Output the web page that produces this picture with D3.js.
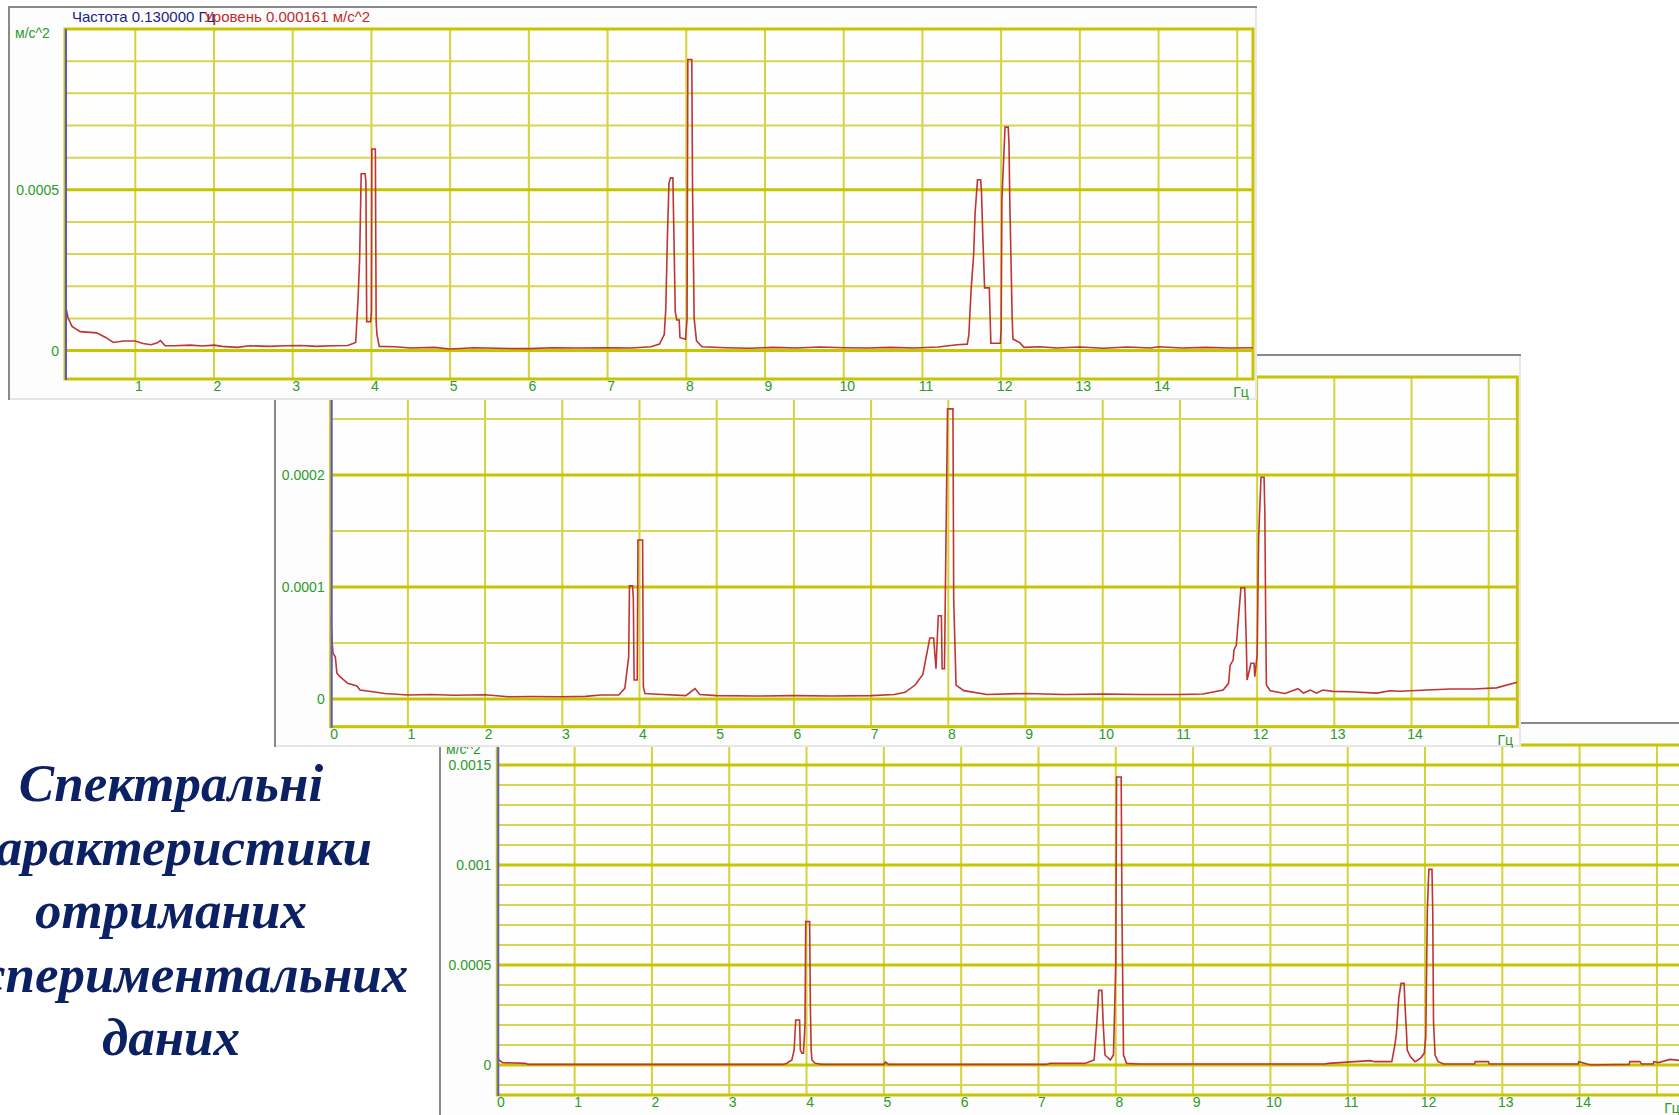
<!DOCTYPE html>
<html><head><meta charset="utf-8">
<script src="https://cdn.jsdelivr.net/npm/d3@7"></script>
<style>
body{margin:0;background:#fff;overflow:hidden}
svg{display:block}
</style></head><body>
<svg id="c" width="1679" height="1115"></svg>
<script>
// ---------- text ----------
const titleLines = ["Спектральні","характеристики","отриманих","експериментальних","даних"];
const headerFreq = "Частота 0.130000 Гц";
const headerLevel = "Уровень 0.000161 м/с^2";
const unitY = "м/с^2";
const unitX = "Гц";

// ---------- ticks ----------
const xGrid = [1,2,3,4,5,6,7,8,9,10,11,12,13,14,15];
const p1XLabels = [1,2,3,4,5,6,7,8,9,10,11,12,13,14];
const p2XLabels = [0,1,2,3,4,5,6,7,8,9,10,11,12,13,14];
const p3XLabels = [0,1,2,3,4,5,6,7,8,9,10,11,12,13,14];

const p1YMajor = [0, 0.0005];
const p1YMajorLabels = ["0", "0.0005"];
const p1YMinor = [0.0001,0.0002,0.0003,0.0004,0.0006,0.0007,0.0008,0.0009];

const p2YMajor = [0, 0.0001, 0.0002];
const p2YMajorLabels = ["0", "0.0001", "0.0002"];
const p2YMinor = [0.00005, 0.00015, 0.00025];

const p3YMajor = [0, 0.0005, 0.001, 0.0015];
const p3YMajorLabels = ["0", "0.0005", "0.001", "0.0015"];
const p3YMinor = [-0.0001,0.0001,0.0002,0.0003,0.0004,0.0006,0.0007,0.0008,0.0009,0.0011,0.0012,0.0013,0.0014];

// ---------- spectrum 1 (Hz, m/s^2) ----------
const p1Freq = [0.107,0.145,0.196,0.30,0.51,0.63,0.72,0.85,1.0,1.1,1.2,1.28,1.32,1.38,1.5,1.7,1.85,2.0,2.1,2.3,2.45,2.7,2.9,3.1,3.3,3.5,3.7,3.8,3.83,3.85,3.87,3.92,3.93,3.94,3.99,4.0,4.005,4.05,4.06,4.07,4.1,4.3,4.5,4.8,5.0,5.3,5.6,6.0,6.3,6.6,7.0,7.3,7.55,7.66,7.72,7.74,7.76,7.78,7.80,7.83,7.84,7.86,7.88,7.91,7.92,7.99,8.01,8.02,8.07,8.08,8.10,8.13,8.2,8.5,8.8,9.1,9.4,9.7,10.0,10.3,10.6,10.9,11.2,11.44,11.57,11.59,11.62,11.65,11.67,11.70,11.74,11.75,11.77,11.79,11.85,11.86,11.87,11.99,12.0,12.01,12.05,12.09,12.10,12.11,12.14,12.15,12.24,12.29,12.5,12.7,13.0,13.3,13.6,13.9,14.0,14.3,14.6,14.9,15.2];
const p1Val = [148e-6,102e-6,75e-6,59e-6,55e-6,40e-6,25e-6,30e-6,30e-6,22e-6,18e-6,24e-6,31e-6,15e-6,15e-6,17e-6,14e-6,17e-6,13e-6,10e-6,15e-6,13e-6,15e-6,16e-6,13e-6,15e-6,16e-6,25e-6,158e-6,283e-6,550e-6,550e-6,524e-6,90e-6,90e-6,120e-6,627e-6,627e-6,90e-6,50e-6,13e-6,12e-6,8e-6,10e-6,5e-6,9e-6,7e-6,6e-6,9e-6,8e-6,9e-6,8e-6,12e-6,20e-6,50e-6,130e-6,350e-6,520e-6,537e-6,537e-6,400e-6,120e-6,95e-6,95e-6,40e-6,35e-6,100e-6,905e-6,905e-6,500e-6,100e-6,30e-6,12e-6,9e-6,7e-6,10e-6,8e-6,11e-6,9e-6,8e-6,10e-6,8e-6,11e-6,18e-6,20e-6,49e-6,195e-6,294e-6,430e-6,531e-6,531e-6,497e-6,336e-6,195e-6,195e-6,106e-6,23e-6,23e-6,65e-6,470e-6,695e-6,695e-6,643e-6,470e-6,106e-6,36e-6,24e-6,10e-6,12e-6,8e-6,11e-6,7e-6,11e-6,8e-6,12e-6,8e-6,10e-6,8e-6,9e-6];

// ---------- spectrum 2 ----------
const p2Freq = [0,0.02,0.03,0.06,0.08,0.12,0.22,0.34,0.38,0.57,0.7,1.0,1.3,1.6,2.0,2.3,2.6,3.0,3.3,3.5,3.73,3.81,3.86,3.87,3.91,3.92,3.93,3.97,3.98,4.04,4.05,4.07,4.3,4.6,4.72,4.78,5.0,5.5,6.0,6.5,7.0,7.3,7.44,7.57,7.67,7.76,7.81,7.84,7.87,7.91,7.92,7.95,7.99,8.06,8.07,8.10,8.2,8.5,9.0,9.5,10.0,10.5,11.0,11.3,11.56,11.63,11.65,11.69,11.70,11.73,11.79,11.84,11.86,11.87,11.92,11.96,11.97,12.0,12.02,12.05,12.09,12.10,12.11,12.12,12.17,12.36,12.53,12.6,12.69,12.77,12.85,12.98,13.2,13.55,13.72,13.85,14.2,14.5,14.8,15.1,15.37];
const p2Val = [73.5e-6,49.7e-6,40.8e-6,37.8e-6,23e-6,20e-6,14e-6,11.6e-6,8e-6,6.3e-6,5e-6,3.6e-6,4e-6,3.4e-6,3.8e-6,2e-6,2.2e-6,2e-6,2.4e-6,3.6e-6,3.6e-6,9.5e-6,37.8e-6,101e-6,101e-6,90e-6,17e-6,17e-6,142e-6,142e-6,11e-6,5e-6,4e-6,3e-6,9.3e-6,4e-6,3e-6,2.7e-6,3e-6,2.7e-6,3e-6,4e-6,6e-6,12.5e-6,22e-6,54.5e-6,54.5e-6,27e-6,74.4e-6,74.4e-6,27e-6,27e-6,259e-6,259e-6,88.5e-6,12.5e-6,7.5e-6,4e-6,5e-6,4e-6,4.5e-6,4e-6,4e-6,4.5e-6,8e-6,14e-6,30e-6,34.8e-6,43.8e-6,48e-6,99.4e-6,99.4e-6,49.7e-6,17e-6,31.9e-6,31.9e-6,20e-6,39.3e-6,145e-6,198e-6,198e-6,166e-6,79.5e-6,12.5e-6,7.4e-6,5e-6,9.2e-6,5.3e-6,8e-6,5.3e-6,8e-6,6.8e-6,6.5e-6,5.3e-6,7.4e-6,7e-6,8e-6,9e-6,9e-6,10e-6,15e-6];

// ---------- spectrum 3 ----------
const p3Freq = [0,0.02,0.07,0.36,0.4,1.0,2.0,3.0,3.7,3.74,3.81,3.84,3.86,3.91,3.92,3.94,3.96,3.98,3.99,4.04,4.05,4.06,4.07,4.11,4.2,5.0,5.02,5.06,6.0,7.1,7.15,7.6,7.72,7.75,7.78,7.82,7.84,7.86,7.93,7.97,8.0,8.01,8.07,8.08,8.10,8.14,8.3,9.0,10.0,10.7,10.75,11.29,11.35,11.57,11.61,11.63,11.66,11.69,11.73,11.74,11.76,11.77,11.81,11.87,11.94,11.99,12.01,12.03,12.05,12.09,12.10,12.11,12.13,12.17,12.24,12.64,12.65,12.82,12.83,13.98,13.99,14.05,14.14,14.64,14.65,14.78,14.8,14.95,14.96,15.02,15.17,15.35];
const p3Val = [58.5e-6,25e-6,11.7e-6,8.3e-6,3e-6,3e-6,3e-6,3e-6,3e-6,8e-6,25e-6,75e-6,225e-6,225e-6,75e-6,58.5e-6,58.5e-6,200e-6,717e-6,717e-6,283e-6,75e-6,25e-6,8.3e-6,3e-6,3e-6,15e-6,3e-6,3e-6,3e-6,8e-6,8e-6,25e-6,185e-6,373e-6,373e-6,185e-6,50e-6,25e-6,50e-6,500e-6,1440e-6,1440e-6,775e-6,50e-6,8e-6,5e-6,5e-6,5e-6,5e-6,8e-6,21.7e-6,16.7e-6,16.7e-6,100e-6,158e-6,333e-6,408e-6,408e-6,308e-6,167e-6,75e-6,41.7e-6,16.7e-6,33.3e-6,58.3e-6,142e-6,775e-6,978e-6,978e-6,767e-6,217e-6,50e-6,16.7e-6,5e-6,5e-6,16.7e-6,16.7e-6,5e-6,5e-6,16.7e-6,10e-6,0,3e-6,16.7e-6,16.7e-6,5e-6,5e-6,16.7e-6,12e-6,28e-6,20e-6];

// ---------- drawing ----------
const svg = d3.select("#c");
const FONT = "'Liberation Sans', Arial, sans-serif";
const GREEN = "#2b9a2b";

// title (underneath the windows)
const title = svg.append("text")
  .attr("x", 171).attr("text-anchor", "middle")
  .attr("font-family", "'Liberation Serif','Times New Roman',serif")
  .attr("font-weight", "bold").attr("font-style", "italic")
  .attr("font-size", 53).attr("fill", "#0b2163");
const titleBase = [801, 865, 928, 992, 1055];
titleLines.forEach((t, i) => {
  title.append("tspan").attr("x", 171).attr("y", titleBase[i]).text(t);
});

let clipId = 0;
function drawPanel(cfg) {
  const g = svg.append("g");
  const W = cfg.win;
  // window
  g.append("rect").attr("x", W.x).attr("y", W.y).attr("width", W.w).attr("height", W.h)
    .attr("fill", "#fdfdfd");
  g.append("line").attr("x1", W.x).attr("x2", W.x + W.w).attr("y1", W.y + W.h - 1).attr("y2", W.y + W.h - 1)
    .attr("stroke", "#e6e6e6").attr("stroke-width", 2);
  g.append("line").attr("x1", W.x + W.w - 1).attr("x2", W.x + W.w - 1).attr("y1", W.y).attr("y2", W.y + W.h)
    .attr("stroke", "#e6e6e6").attr("stroke-width", 2);
  g.append("line").attr("x1", W.x).attr("x2", W.x + W.w).attr("y1", W.y + 1).attr("y2", W.y + 1)
    .attr("stroke", "#8a8a8a").attr("stroke-width", 2);
  g.append("line").attr("x1", W.x + 1).attr("x2", W.x + 1).attr("y1", W.y).attr("y2", W.y + W.h)
    .attr("stroke", "#8a8a8a").attr("stroke-width", 2);

  const P = cfg.plot;
  const x = d3.scaleLinear().domain(cfg.xDomain).range([P.l, P.r]);
  const y = d3.scaleLinear().domain(cfg.yDomain).range([P.b, P.t]);

  g.append("rect").attr("x", P.l).attr("y", P.t).attr("width", P.r - P.l).attr("height", P.b - P.t)
    .attr("fill", "#fefefe");

  // vertical grid
  g.append("g").selectAll("line").data(cfg.xGrid.filter(v => x(v) > P.l + 2 && x(v) < P.r - 2)).join("line")
    .attr("x1", d => x(d)).attr("x2", d => x(d)).attr("y1", P.t).attr("y2", P.b)
    .attr("stroke", "#d3d33a").attr("stroke-width", 2);
  // minor horizontal
  g.append("g").selectAll("line").data(cfg.yMinor).join("line")
    .attr("x1", P.l).attr("x2", P.r).attr("y1", d => y(d)).attr("y2", d => y(d))
    .attr("stroke", "#d6d650").attr("stroke-width", 2);
  // major horizontal
  g.append("g").selectAll("line").data(cfg.yMajor).join("line")
    .attr("x1", P.l).attr("x2", P.r).attr("y1", d => y(d)).attr("y2", d => y(d))
    .attr("stroke", "#c6c600").attr("stroke-width", 3);
  // border
  g.append("rect").attr("x", P.l).attr("y", P.t).attr("width", P.r - P.l).attr("height", P.b - P.t)
    .attr("fill", "none").attr("stroke", "#c8c400").attr("stroke-width", 3);

  // spectrum
  const cid = "clip" + (clipId++);
  g.append("clipPath").attr("id", cid).append("rect")
    .attr("x", P.l).attr("y", P.t).attr("width", P.r - P.l).attr("height", P.b - P.t);
  const pts = cfg.freq.map((f, i) => [f, cfg.val[i]]);
  g.append("path").datum(pts).attr("clip-path", `url(#${cid})`)
    .attr("d", d3.line().x(d => x(d[0])).y(d => y(d[1])))
    .attr("fill", "none").attr("stroke", "#bf3434").attr("stroke-width", 1.6)
    .attr("stroke-linejoin", "miter");

  // left blue axis
  g.append("line").attr("x1", P.l + 1).attr("x2", P.l + 1).attr("y1", P.t).attr("y2", P.b + 1)
    .attr("stroke", "#5a5ad0").attr("stroke-width", 2);

  // x labels
  const xa = g.append("g").attr("transform", `translate(3,${P.b + 1})`)
    .call(d3.axisBottom(x).tickValues(cfg.xLabels).tickSize(0).tickPadding(1).tickFormat(d3.format("d")));
  xa.select(".domain").remove();
  xa.selectAll("text").attr("font-family", FONT).attr("font-size", 14).attr("fill", GREEN);
  g.append("text").attr("x", P.r - 12).attr("y", P.b + 18).attr("text-anchor", "middle")
    .attr("font-family", FONT).attr("font-size", 14).attr("fill", GREEN).text(unitX);

  // y labels
  const ya = g.append("g").attr("transform", `translate(${P.l - 5},0)`)
    .call(d3.axisLeft(y).tickValues(cfg.yMajor).tickSize(0).tickPadding(1)
      .tickFormat((d, i) => cfg.yLabels[i]));
  ya.select(".domain").remove();
  ya.selectAll("text").attr("font-family", FONT).attr("font-size", 14).attr("fill", GREEN);

  // unit (only where it is not covered by the window above)
  if (cfg.showUnit) {
    g.append("text").attr("x", W.x + 7).attr("y", P.t + 9)
      .attr("font-family", FONT).attr("font-size", 14).attr("fill", GREEN).text(unitY);
  }

  if (cfg.header) {
    g.append("text").attr("x", W.x + 64).attr("y", W.y + 16)
      .attr("font-family", FONT).attr("font-size", 15).attr("fill", "#1c1c86").text(headerFreq);
    g.append("text").attr("x", W.x + 196).attr("y", W.y + 16)
      .attr("font-family", FONT).attr("font-size", 15).attr("fill", "#c02a2a").text(headerLevel);
  }
}

// panel 3 (bottom, drawn first)
drawPanel({
  win: {x: 439, y: 722, w: 1300, h: 420},
  plot: {l: 497.3, r: 1684, t: 745, b: 1095},
  xDomain: [0, 15.35], yDomain: [-0.00015, 0.0016],
  xGrid: xGrid, xLabels: p3XLabels,
  yMajor: p3YMajor, yLabels: p3YMajorLabels, yMinor: p3YMinor,
  freq: p3Freq, val: p3Val, header: false, showUnit: true
});
// panel 2
drawPanel({
  win: {x: 274, y: 354, w: 1247, h: 393},
  plot: {l: 330.7, r: 1517.3, t: 377, b: 726.7},
  xDomain: [0, 15.37], yDomain: [-0.0000247, 0.0002875],
  xGrid: xGrid, xLabels: p2XLabels,
  yMajor: p2YMajor, yLabels: p2YMajorLabels, yMinor: p2YMinor,
  freq: p2Freq, val: p2Val, header: false, showUnit: false
});
// panel 1 (top)
drawPanel({
  win: {x: 8, y: 6, w: 1249, h: 394},
  plot: {l: 65, r: 1253, t: 29, b: 379},
  xDomain: [0.107, 15.2], yDomain: [-0.0000884, 0.001],
  xGrid: xGrid, xLabels: p1XLabels,
  yMajor: p1YMajor, yLabels: p1YMajorLabels, yMinor: p1YMinor,
  freq: p1Freq, val: p1Val, header: true, showUnit: true
});
</script>
</body></html>
